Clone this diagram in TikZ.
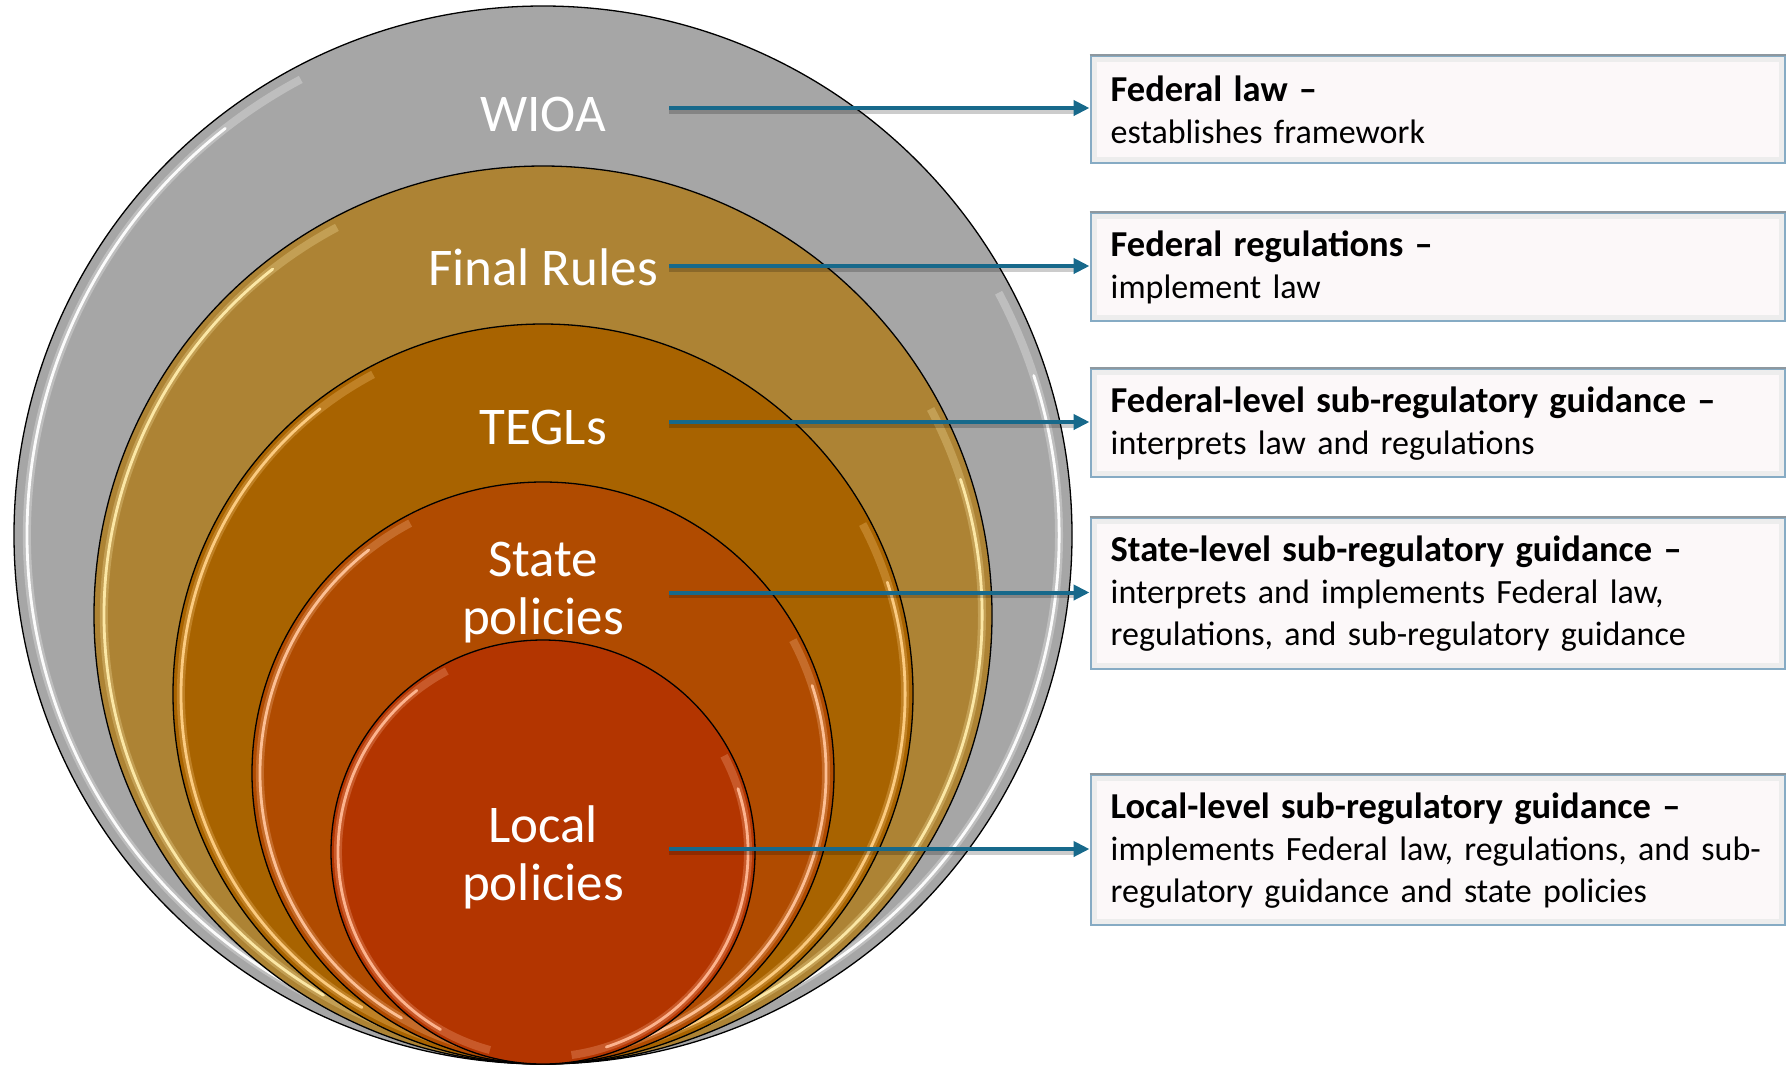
\documentclass[tikz,border=0pt]{standalone}
\usepackage{fontspec}
\setmainfont{Carlito}
\usetikzlibrary{arrows.meta}
\definecolor{cgray}{HTML}{A6A6A6}
\definecolor{cfinal}{HTML}{AD8334}
\definecolor{ctegl}{HTML}{A86300}
\definecolor{cstate}{HTML}{B04B00}
\definecolor{clocal}{HTML}{B33500}
\definecolor{hlgray}{HTML}{FFFFFF}
\definecolor{hlfinal}{HTML}{FFEBAA}
\definecolor{hltegl}{HTML}{FFCF85}
\definecolor{hlstate}{HTML}{FFC49A}
\definecolor{hllocal}{HTML}{FFB894}
\definecolor{arrowc}{HTML}{17698B}
\definecolor{boxdraw}{HTML}{86ABC4}
\definecolor{boxtop}{HTML}{8E989F}
\definecolor{boxfill}{HTML}{FCF8F9}
\newcommand{\ttl}[1]{{\fontsize{36.5}{42}\selectfont\bfseries #1}}
\begin{document}
\begin{tikzpicture}[x=1pt,y=-1pt,
  ring/.style={draw=black,line width=1.3pt},
  lbl/.style={text=white,font=\fontsize{53}{58}\selectfont,align=center,inner sep=0pt},
  infobox/.style={draw=boxdraw,line width=2.4pt,fill=boxfill,anchor=north west,
    text width=654pt,inner xsep=20pt,inner ysep=0pt,align=left,
    font=\fontsize{34}{42}\selectfont,text=black},
  conn/.style={draw=arrowc,line width=4pt,-{Triangle[length=16pt,width=15pt]}},
  connshadow/.style={draw=black,opacity=.2,line width=5pt},
  boxinner/.style={draw=black!7,line width=5pt},
]
\useasboundingbox (0,0) rectangle (1787,1066);

% nested circles, all touching at the bottom
\foreach \r/\c/\h/\i in {529/cgray/hlgray/13, 449/cfinal/hlfinal/10, 370/ctegl/hltegl/8, 291/cstate/hlstate/8, 212/clocal/hllocal/7} {
  \pgfmathsetmacro\cy{1064-\r}
  \pgfmathsetmacro\rr{\r-\i}
  \fill[\c] (543,\cy) circle[radius=\r pt];
  \draw[\h, line width=8pt, opacity=.28] (543,\cy) ++(118:\rr pt) arc[start angle=118,end angle=255,radius=\rr pt];
  \draw[\h, line width=2.8pt, opacity=.95, line cap=round] (543,\cy) ++(128:\rr pt) arc[start angle=128,end angle=240,radius=\rr pt];
  \draw[\h, line width=8pt, opacity=.28] (543,\cy) ++(-82:\rr pt) arc[start angle=-82,end angle=28,radius=\rr pt];
  \draw[\h, line width=2.8pt, opacity=.95, line cap=round] (543,\cy) ++(-72:\rr pt) arc[start angle=-72,end angle=18,radius=\rr pt];
  \draw[ring] (543,\cy) circle[radius=\r pt];
}

% circle labels
\node[lbl, anchor=base] (wioa) at (543,131) {WIOA};
\node[lbl, anchor=base] (final) at (543,285) {Final Rules};
\node[lbl, anchor=base] (tegls) at (543,444) {TEGLs};
\node[lbl] (state) at (543,593) {State\\policies};
\node[lbl] (local) at (543,857) {Local\\policies};

% boxes
\node[infobox, minimum height=107pt] (b1) at (1089.5,54.7)
  {\mbox{\ttl{Federal law –}}\\\mbox{establishes framework}};
\node[infobox, minimum height=108pt] (b2) at (1089.5,212)
  {\mbox{\ttl{Federal regulations –}}\\\mbox{implement law}};
\node[infobox, minimum height=108pt] (b3) at (1089.5,368)
  {\mbox{\ttl{Federal-level sub-regulatory guidance –}}\\\mbox{interprets law and regulations}};
\node[infobox, minimum height=151pt] (b4) at (1089.5,517)
  {\mbox{\ttl{State-level sub-regulatory guidance –}}\\\mbox{interprets and implements Federal law,}\\\mbox{regulations, and sub-regulatory guidance}};
\node[infobox, minimum height=150pt] (b5) at (1089.5,774)
  {\mbox{\ttl{Local-level sub-regulatory guidance –}}\\\mbox{implements Federal law, regulations, and sub-}\\\mbox{regulatory guidance and state policies}};

\foreach \b in {b1,b2,b3,b4,b5}{
  \draw[boxinner] ([shift={(4.5,4.5)}]\b.north west) rectangle ([shift={(-4.5,-4.5)}]\b.south east);
  \draw[boxtop, line width=2.4pt] (\b.north west) -- (\b.north east);
}

% connectors
\coordinate (s1) at (669,108);
\coordinate (s2) at (669,266);
\coordinate (s3) at (669,422);
\coordinate (s4) at (669,592.5);
\coordinate (s5) at (669,849);
\foreach \s/\b in {s1/b1,s2/b2,s3/b3,s4/b4,s5/b5}{
  \draw[connshadow] ([yshift=-3pt]\s) -- ([yshift=-3pt,xshift=-14pt]\s -| \b.west);
  \draw[conn] (\s) -- (\s -| \b.west);
}
\end{tikzpicture}
\end{document}
